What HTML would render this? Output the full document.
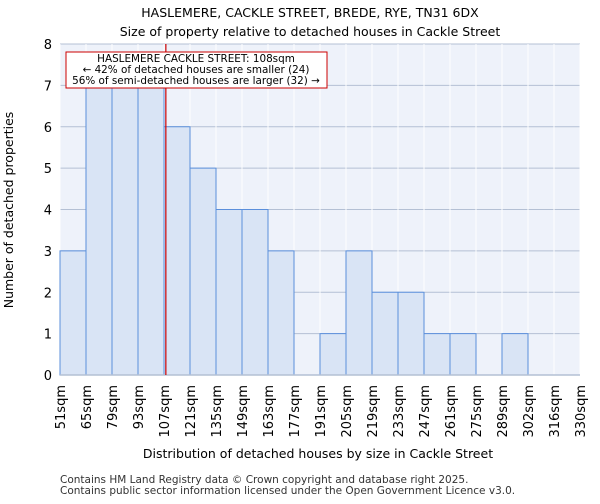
<!DOCTYPE html>
<html><head><meta charset="utf-8"><style>
body{margin:0;background:#fff;font-family:"DejaVu Sans","Liberation Sans",sans-serif;}
</style></head><body>
<svg id="chart" width="600" height="500" xmlns="http://www.w3.org/2000/svg" font-family="DejaVu Sans, Liberation Sans, sans-serif">
<text x="310" y="17" text-anchor="middle" font-size="12.5">HASLEMERE, CACKLE STREET, BREDE, RYE, TN31 6DX</text>
<text x="310" y="36" text-anchor="middle" font-size="12.5">Size of property relative to detached houses in Cackle Street</text>
<rect x="60" y="44" width="520" height="331" fill="#eef2fa"/>
<g id="grid"></g>
<g id="bars"></g>
<g id="axes"></g>
<text transform="translate(13,210) rotate(-90)" text-anchor="middle" font-size="12.5">Number of detached properties</text>
<text x="318" y="458" text-anchor="middle" font-size="12.5">Distribution of detached houses by size in Cackle Street</text>
<text x="60" y="483" font-size="10.5" fill="#333">Contains HM Land Registry data © Crown copyright and database right 2025.</text>
<text x="60" y="494" font-size="10.5" fill="#333">Contains public sector information licensed under the Open Government Licence v3.0.</text>
</svg>
<script>
const binLabels=["51sqm","65sqm","79sqm","93sqm","107sqm","121sqm","135sqm","149sqm","163sqm","177sqm","191sqm","205sqm","219sqm","233sqm","247sqm","261sqm","275sqm","289sqm","302sqm","316sqm","330sqm"];
const binEdges=[51,65,79,93,107,121,135,149,163,177,191,205,219,233,247,261,275,289,302,316,330];
const counts=[3,7,7,7,6,5,4,4,3,0,1,3,2,2,1,1,0,1,0,0];
const yTicks=[0,1,2,3,4,5,6,7,8];
const markerValue=108;
const NS="http://www.w3.org/2000/svg";
const X0=60,X1=580,Y0=375,Y1=44;
const n=binEdges.length-1;
function xIdx(i){return X0+(X1-X0)*i/n;}
function xVal(v){let i=0;while(i<n-1&&v>binEdges[i+1])i++;return xIdx(i)+(v-binEdges[i])/(binEdges[i+1]-binEdges[i])*(X1-X0)/n;}
function y(v){return Y0-(Y0-Y1)*v/8;}
function mk(t,a,p){const e=document.createElementNS(NS,t);for(const k in a)e.setAttribute(k,a[k]);p.appendChild(e);return e;}
const grid=document.getElementById('grid'),bars=document.getElementById('bars'),axes=document.getElementById('axes');
yTicks.forEach(v=>{
 const l=mk('line',{x1:X0,x2:X1,y1:y(v),y2:y(v),stroke:'#b4c0d4','stroke-width':1},grid);
 
 
 const t=mk('text',{x:X0-8,y:y(v)+5,'text-anchor':'end','font-size':13},axes);
 t.textContent=v;
 
 
});
for(let i=0;i<=n;i++){
 const l=mk('line',{x1:xIdx(i),x2:xIdx(i),y1:Y1,y2:Y0,stroke:'#ffffff','stroke-width':1},grid);
 
 
 const t=mk('text',{transform:`translate(${xIdx(i)+5},${Y0+10}) rotate(-90)`,'text-anchor':'end','font-size':13},axes);
 t.textContent=binLabels[i];
 
 
}
counts.forEach((c,i)=>{
 if(c<=0)return;
 const r=mk('rect',{x:xIdx(i),y:y(c),width:xIdx(i+1)-xIdx(i),height:Y0-y(c),fill:'#d9e4f5',stroke:'#5b8fdb','stroke-width':1},bars);
 
 
});
const bl=mk('line',{x1:X0,x2:X1,y1:Y0,y2:Y0,stroke:'#b4c0d4','stroke-width':1.5},axes);


const mx=xVal(markerValue);
const ml=mk('line',{x1:mx,x2:mx,y1:Y1,y2:Y0,stroke:'#cc0000','stroke-width':1.2},axes);


const box=mk('rect',{x:66,y:52,width:261,height:36,fill:'#fff',stroke:'#cc0000','stroke-width':1},axes);


["HASLEMERE CACKLE STREET: 108sqm","← 42% of detached houses are smaller (24)","56% of semi-detached houses are larger (32) →"].forEach((s,i)=>{
 const t=mk('text',{x:196,y:62+i*11,'text-anchor':'middle','font-size':10.4},axes);
 t.textContent=s;
 
 
});
</script>
</body></html>
